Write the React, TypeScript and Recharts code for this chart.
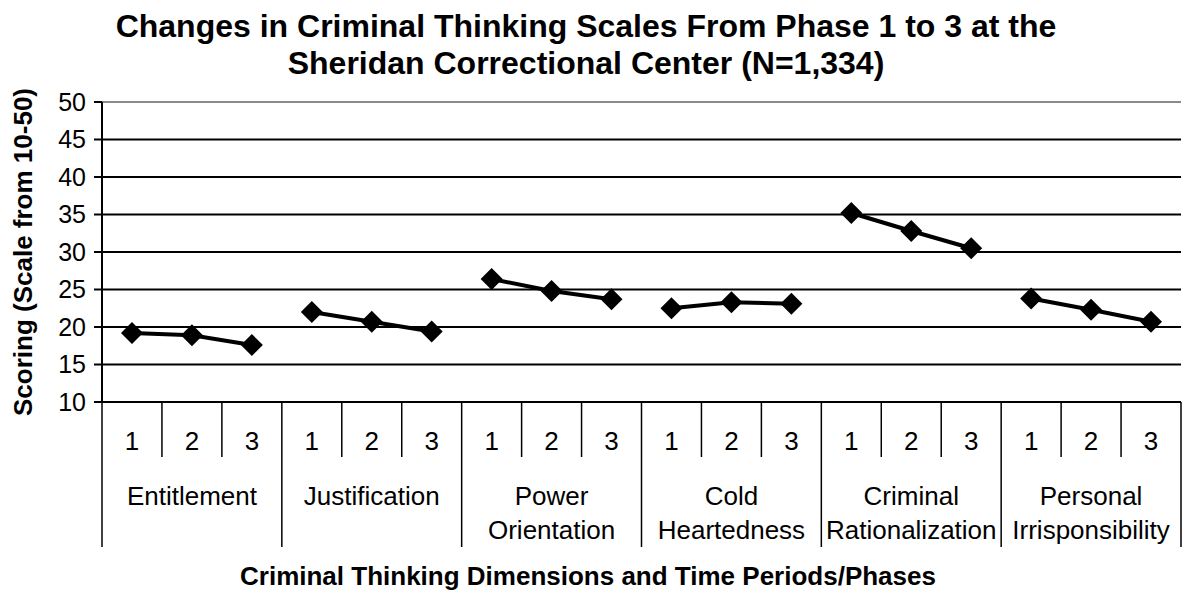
import { LineChart, Line, XAxis, YAxis, CartesianGrid, ReferenceLine } from "recharts";

const phases = ["1", "2", "3"];
const dimensions = [
  "Entitlement",
  "Justification",
  "Power Orientation",
  "Cold Heartedness",
  "Criminal Rationalization",
  "Personal Irrisponsibility",
];
const dimensionLabelLines = [
  ["Entitlement"],
  ["Justification"],
  ["Power", "Orientation"],
  ["Cold", "Heartedness"],
  ["Criminal", "Rationalization"],
  ["Personal", "Irrisponsibility"],
];

const entitlement = [19.2, 18.9, 17.6];
const justification = [22.0, 20.7, 19.4];
const powerOrientation = [26.4, 24.8, 23.7];
const coldHeartedness = [22.5, 23.3, 23.1];
const criminalRationalization = [35.2, 32.8, 30.5];
const personalIrresponsibility = [23.8, 22.3, 20.7];

const seriesValues = [
  entitlement,
  justification,
  powerOrientation,
  coldHeartedness,
  criminalRationalization,
  personalIrresponsibility,
];

const yTicks = [10, 15, 20, 25, 30, 35, 40, 45, 50];

const chartTitle = [
  "Changes in Criminal Thinking Scales From Phase 1 to 3 at the",
  "Sheridan Correctional Center (N=1,334)",
];
const xTitle = "Criminal Thinking Dimensions and Time Periods/Phases";
const yTitle = "Scoring (Scale from 10-50)";

// one row per dimension/phase, each dimension gets its own series so the lines break between groups
const rows = dimensions.flatMap((dim, d) =>
  phases.map((phase, p) => {
    const row: Record<string, string | number | null> = { key: `${dim}-${phase}`, phase, group: d };
    seriesValues.forEach((_, s) => {
      row[`s${s}`] = s === d ? seriesValues[d][p] : null;
    });
    return row;
  })
);

const W = 1182;
const H = 590;
const PLOT_LEFT = 102;
const PLOT_RIGHT = 1181;
const PLOT_TOP = 102;
const PLOT_BOTTOM = 402;
const BAND = (PLOT_RIGHT - PLOT_LEFT) / rows.length;
const FONT = "'Liberation Sans', Arial, sans-serif";
const AXIS_FONT = 26;

const Diamond = (props: any) => {
  const { cx, cy, value } = props;
  if (value == null || cx == null || cy == null) return null;
  const rx = 11;
  const ry = 11;
  return <path d={`M${cx},${cy - ry}L${cx + rx},${cy}L${cx},${cy + ry}L${cx - rx},${cy}Z`} fill="#000" />;
};

const PhaseTick = (props: any) => {
  const { x, payload } = props;
  const i = payload.index;
  const row = rows[i];
  const left = x - BAND / 2;
  const isGroupStart = i % 3 === 0;
  return (
    <g>
      <text x={x} y={450} textAnchor="middle" fontSize={AXIS_FONT} fontFamily={FONT} fill="#000">
        {row.phase}
      </text>
      <line x1={left} x2={left} y1={PLOT_BOTTOM} y2={isGroupStart ? 547 : 457} stroke="#000" strokeWidth={1.5} />
      {i === rows.length - 1 && (
        <line x1={x + BAND / 2} x2={x + BAND / 2} y1={PLOT_BOTTOM} y2={547} stroke="#000" strokeWidth={1.5} />
      )}
      {i % 3 === 1 &&
        dimensionLabelLines[row.group as number].map((line, k) => (
          <text key={k} x={x} y={505 + k * 34} textAnchor="middle" fontSize={AXIS_FONT} fontFamily={FONT} fill="#000">
            {line}
          </text>
        ))}
    </g>
  );
};

const XTitle = () => (
  <text x={588} y={585} textAnchor="middle" fontSize={26} fontWeight="bold" fontFamily={FONT} fill="#000">
    {xTitle}
  </text>
);

const YTitle = () => (
  <text
    transform={`translate(32,${(PLOT_TOP + PLOT_BOTTOM) / 2}) rotate(-90)`}
    textAnchor="middle"
    fontSize={26}
    fontWeight="bold"
    fontFamily={FONT}
    fill="#000"
  >
    {yTitle}
  </text>
);

export default function App() {
  return (
    <div style={{ position: "absolute", left: 0, top: 0, width: W, height: H, background: "#fff" }}>
      <LineChart
        width={W}
        height={H}
        data={rows}
        margin={{ top: PLOT_TOP, right: W - PLOT_RIGHT, left: 0, bottom: 0 }}
      >
        <CartesianGrid vertical={false} stroke="#000" strokeWidth={2} />
        <ReferenceLine y={50} stroke="#8a8a8a" strokeWidth={2} />
        <XAxis
          dataKey="key"
          interval={0}
          height={H - PLOT_BOTTOM}
          padding={{ left: BAND / 2, right: BAND / 2 }}
          tickLine={false}
          axisLine={{ stroke: "#000", strokeWidth: 2 }}
          tick={<PhaseTick />}
          label={{ content: <XTitle /> }}
        />
        <YAxis
          domain={[10, 50]}
          ticks={yTicks}
          width={PLOT_LEFT}
          tickSize={8}
          tickMargin={8}
          tickLine={{ stroke: "#000", strokeWidth: 2 }}
          axisLine={{ stroke: "#000", strokeWidth: 2 }}
          tick={{ fill: "#000", fontSize: 25, fontFamily: FONT }}
          label={{ content: <YTitle /> }}
        />
        {seriesValues.map((_, s) => (
          <Line
            key={s}
            type="linear"
            dataKey={`s${s}`}
            stroke="#000"
            strokeWidth={4}
            dot={<Diamond />}
            activeDot={false}
            connectNulls={false}
            isAnimationActive={false}
          />
        ))}
      </LineChart>
      <svg width={W} height={100} style={{ position: "absolute", left: 0, top: 0, pointerEvents: "none" }}>
        {chartTitle.map((t, k) => (
          <text
            key={t}
            x={586}
            y={37 + k * 36.5}
            textAnchor="middle"
            fontSize={32}
            fontWeight="bold"
            fontFamily={FONT}
            fill="#000"
          >
            {t}
          </text>
        ))}
      </svg>
    </div>
  );
}
